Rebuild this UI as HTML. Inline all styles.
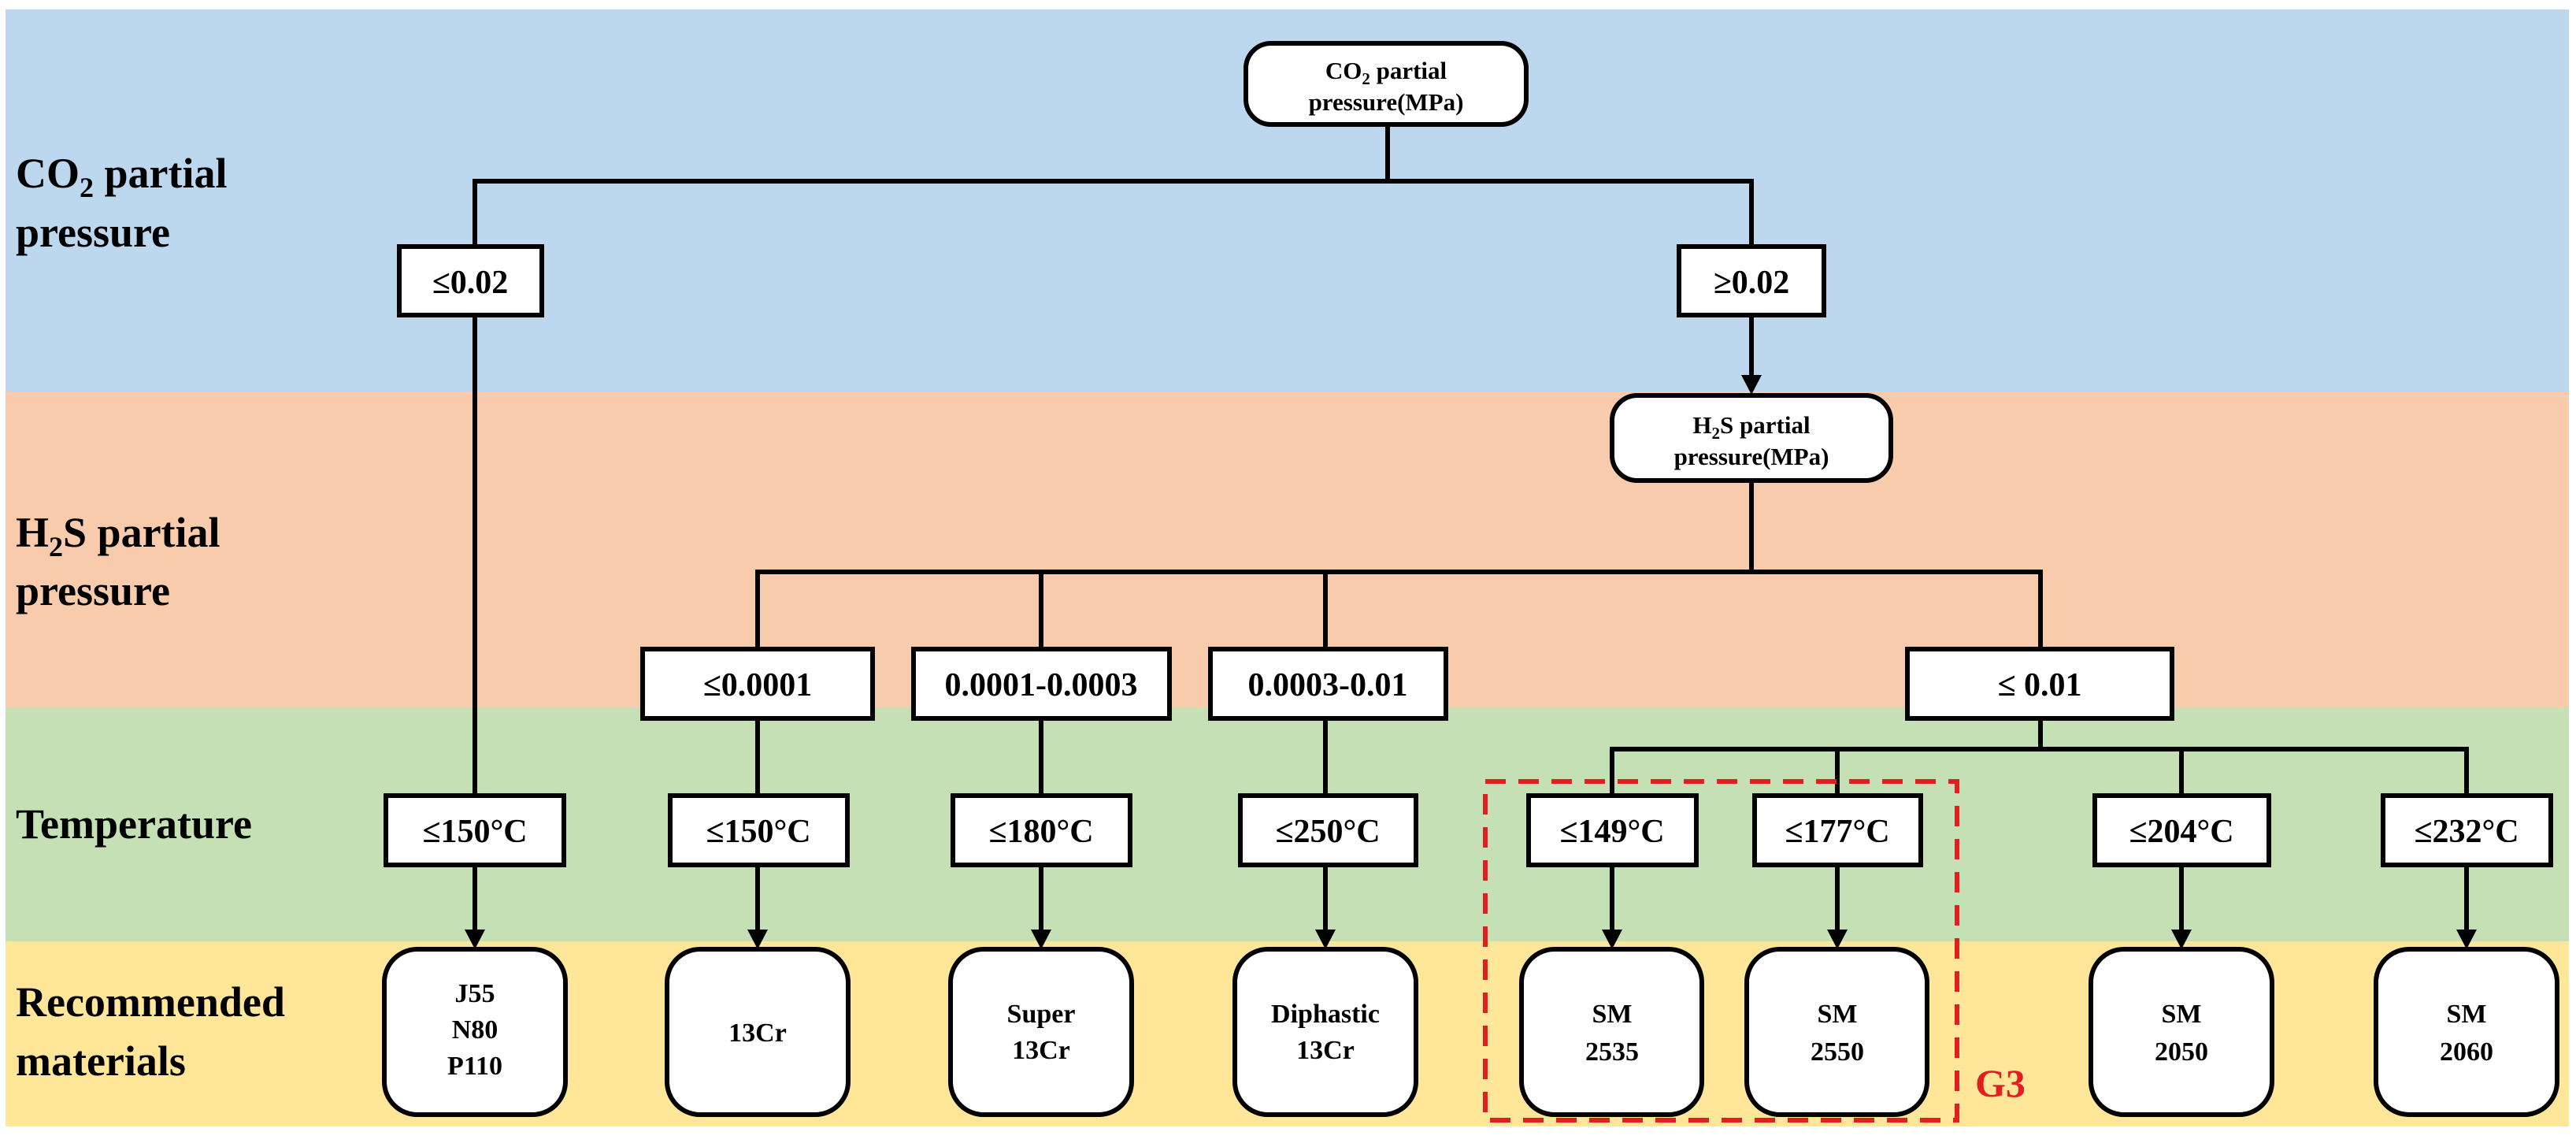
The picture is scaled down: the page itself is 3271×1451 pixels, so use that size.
<!DOCTYPE html>
<html><head><meta charset="utf-8"><style>
html,body{margin:0;padding:0;background:#fff;}
svg{display:block;}
text{font-family:"Liberation Serif","DejaVu Serif",serif;font-weight:bold;fill:#000;}
</style></head><body>
<svg width="3271" height="1451" viewBox="0 0 3271 1451" xmlns="http://www.w3.org/2000/svg" font-family="Liberation Serif, serif">
<rect x="7" y="12" width="3255" height="485" fill="#bdd7ee"/>
<rect x="7" y="497" width="3255" height="401" fill="#f8cbad"/>
<rect x="7" y="898" width="3255" height="297" fill="#c5e0b4"/>
<rect x="7" y="1195" width="3255" height="235" fill="#ffe699"/>

<g font-size="54">
<text x="20" y="238">CO<tspan font-size="36" dy="12">2</tspan><tspan dy="-12"> partial</tspan></text>
<text x="20" y="313">pressure</text>
<text x="20" y="694">H<tspan font-size="36" dy="12">2</tspan><tspan dy="-12">S partial</tspan></text>
<text x="20" y="768">pressure</text>
<text x="20" y="1064">Temperature</text>
<text x="20" y="1290">Recommended</text>
<text x="20" y="1365">materials</text>
</g>

<g stroke="#000" stroke-width="6" fill="none">
<line x1="1762" y1="158" x2="1762" y2="230"/>
<polyline points="603,313 603,230 2224,230 2224,313"/>
<line x1="603" y1="400" x2="603" y2="1010"/>
<line x1="2224" y1="400" x2="2224" y2="478"/>
<line x1="2224" y1="611" x2="2224" y2="726"/>
<polyline points="962,824 962,726 2591,726 2591,824"/>
<line x1="1322" y1="726" x2="1322" y2="824"/>
<line x1="1683" y1="726" x2="1683" y2="824"/>
<line x1="962" y1="912" x2="962" y2="1008"/>
<line x1="1322" y1="912" x2="1322" y2="1008"/>
<line x1="1683" y1="912" x2="1683" y2="1008"/>
<line x1="2591" y1="912" x2="2591" y2="951"/>
<polyline points="2047,1008 2047,951 3132,951 3132,1008"/>
<line x1="2333" y1="951" x2="2333" y2="1008"/>
<line x1="2770" y1="951" x2="2770" y2="1008"/>
<line x1="603" y1="1099" x2="603" y2="1180"/>
<line x1="962" y1="1099" x2="962" y2="1180"/>
<line x1="1322" y1="1099" x2="1322" y2="1180"/>
<line x1="1683" y1="1099" x2="1683" y2="1180"/>
<line x1="2047" y1="1099" x2="2047" y2="1180"/>
<line x1="2333" y1="1099" x2="2333" y2="1180"/>
<line x1="2770" y1="1099" x2="2770" y2="1180"/>
<line x1="3132" y1="1099" x2="3132" y2="1180"/>
</g>
<g fill="#000">
<polygon points="2211,476 2237,476 2224,501"/>
<polygon points="590,1180 616,1180 603,1205"/>
<polygon points="949,1180 975,1180 962,1205"/>
<polygon points="1309,1180 1335,1180 1322,1205"/>
<polygon points="1670,1180 1696,1180 1683,1205"/>
<polygon points="2034,1180 2060,1180 2047,1205"/>
<polygon points="2320,1180 2346,1180 2333,1205"/>
<polygon points="2757,1180 2783,1180 2770,1205"/>
<polygon points="3119,1180 3145,1180 3132,1205"/>
</g>

<g stroke="#000" stroke-width="6" fill="#fff">
<rect x="1582" y="55" width="356" height="103" rx="32"/>
<rect x="2047" y="502" width="354" height="108" rx="32"/>
<rect x="507" y="313" width="181" height="87"/>
<rect x="2132" y="313" width="184" height="87"/>
<rect x="816" y="824" width="292" height="88"/>
<rect x="1160" y="824" width="325" height="88"/>
<rect x="1537" y="824" width="299" height="88"/>
<rect x="2422" y="824" width="336" height="88"/>
<rect x="490" y="1010" width="226" height="88"/>
<rect x="851" y="1010" width="225" height="88"/>
<rect x="1210" y="1010" width="225" height="88"/>
<rect x="1575" y="1010" width="223" height="88"/>
<rect x="1941" y="1010" width="213" height="88"/>
<rect x="2228" y="1010" width="211" height="88"/>
<rect x="2660" y="1010" width="221" height="88"/>
<rect x="3026" y="1010" width="213" height="88"/>
<rect x="488" y="1205" width="230" height="210" rx="42"/>
<rect x="847" y="1205" width="230" height="210" rx="42"/>
<rect x="1207" y="1205" width="230" height="210" rx="42"/>
<rect x="1568" y="1205" width="230" height="210" rx="42"/>
<rect x="1932" y="1205" width="229" height="210" rx="42"/>
<rect x="2218" y="1205" width="229" height="210" rx="42"/>
<rect x="2655" y="1205" width="230" height="210" rx="42"/>
<rect x="3017" y="1205" width="230" height="210" rx="42"/>
</g>
<rect x="1886" y="992" width="599" height="430" fill="none" stroke="#e02020" stroke-width="6" stroke-dasharray="26,16"/>
<text x="2508" y="1392" font-size="50" style="fill:#e02020">G3</text>

<g text-anchor="middle" font-size="31">
<text x="1760" y="100">CO<tspan font-size="21" dy="7">2</tspan><tspan dy="-7"> partial</tspan></text>
<text x="1760" y="140">pressure(MPa)</text>
<text x="2224" y="550">H<tspan font-size="21" dy="7">2</tspan><tspan dy="-7">S partial</tspan></text>
<text x="2224" y="590">pressure(MPa)</text>
</g>
<g text-anchor="middle" font-size="42">
<text x="597" y="372">≤0.02</text>
<text x="2224" y="372">≥0.02</text>
<text x="962" y="883">≤0.0001</text>
<text x="1322" y="883">0.0001-0.0003</text>
<text x="1686" y="883">0.0003-0.01</text>
<text x="2590" y="883">≤ 0.01</text>
<text x="603" y="1069">≤150°C</text>
<text x="963" y="1069">≤150°C</text>
<text x="1322" y="1069">≤180°C</text>
<text x="1686" y="1069">≤250°C</text>
<text x="2047" y="1069">≤149°C</text>
<text x="2333" y="1069">≤177°C</text>
<text x="2770" y="1069">≤204°C</text>
<text x="3132" y="1069">≤232°C</text>
</g>
<g text-anchor="middle" font-size="34">
<text x="603" y="1272">J55</text>
<text x="603" y="1318">N80</text>
<text x="603" y="1364">P110</text>
<text x="962" y="1322">13Cr</text>
<text x="1322" y="1298">Super</text>
<text x="1322" y="1344">13Cr</text>
<text x="1683" y="1298">Diphastic</text>
<text x="1683" y="1344">13Cr</text>
<text x="2047" y="1298">SM</text>
<text x="2047" y="1346">2535</text>
<text x="2333" y="1298">SM</text>
<text x="2333" y="1346">2550</text>
<text x="2770" y="1298">SM</text>
<text x="2770" y="1346">2050</text>
<text x="3132" y="1298">SM</text>
<text x="3132" y="1346">2060</text>
</g>
</svg>
</body></html>
